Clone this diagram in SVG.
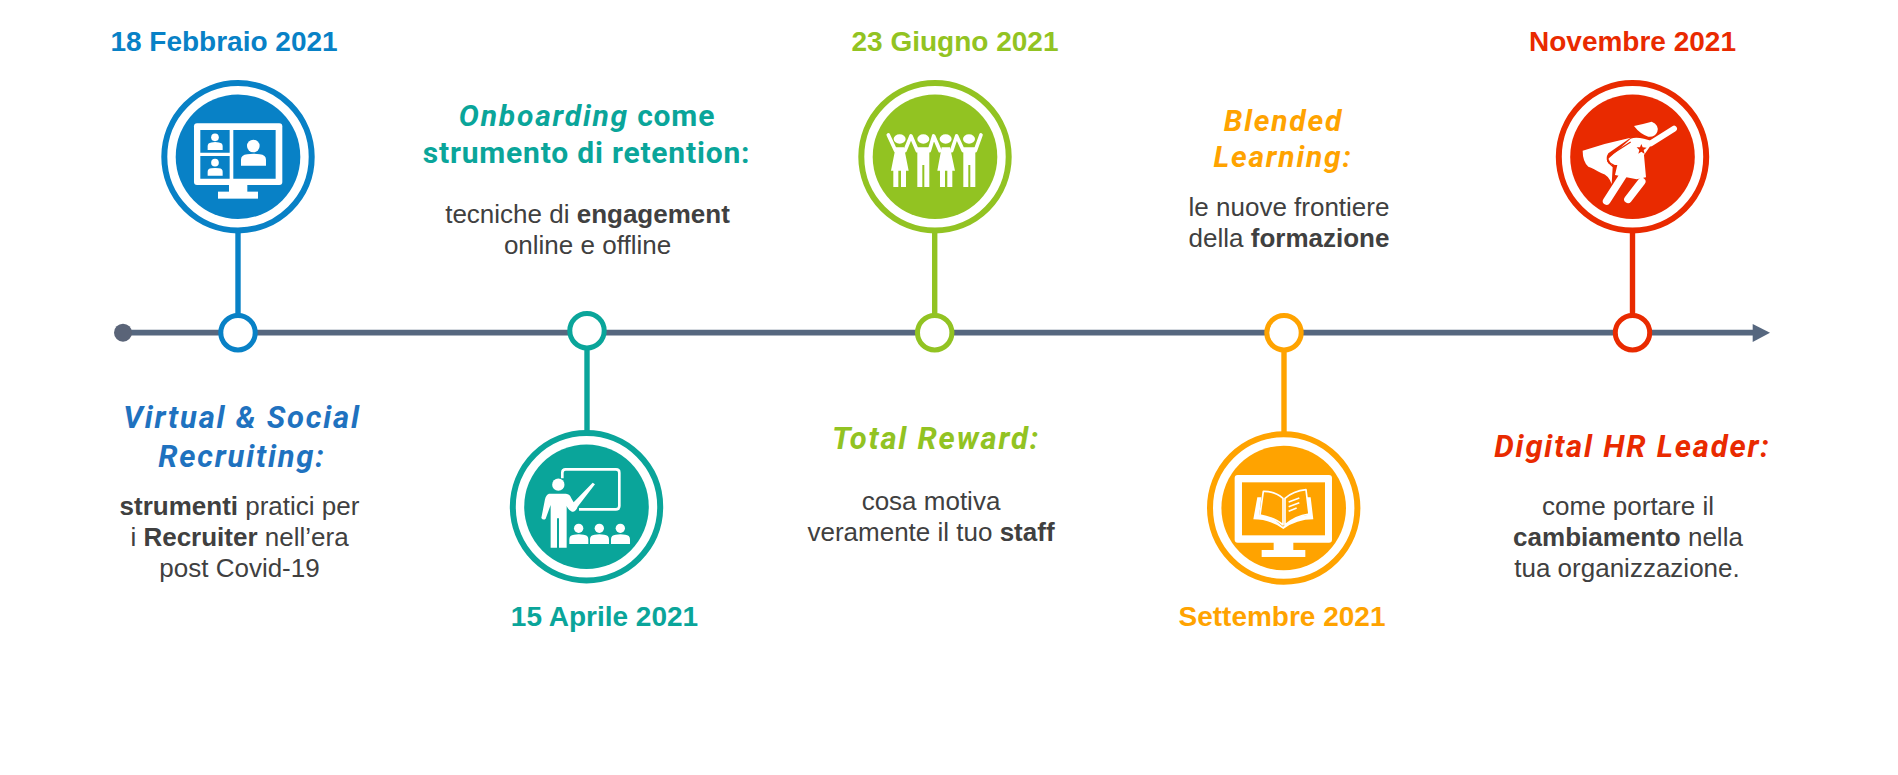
<svg xmlns="http://www.w3.org/2000/svg" xmlns:xlink="http://www.w3.org/1999/xlink" width="1898" height="775" viewBox="0 0 1898 775">
<style>
text{text-anchor:middle}
.date{font:bold 28px "Liberation Sans",Arial,sans-serif}
.head{font:bold 31px Roboto,"Liberation Sans",sans-serif;letter-spacing:1.8px}
.tl{font-size:30px;letter-spacing:.8px}
.ol{font-size:30px;letter-spacing:1.6px}
.it{font-style:italic;letter-spacing:1.8px}
.body{font:26px "Liberation Sans",Arial,sans-serif;fill:#404040}
.body .b{font-weight:bold}
.w{fill:#fff}
.blue{fill:#0881C6}.teal{fill:#0AA59A}.green{fill:#92C322}.orange{fill:#FFA300}.red{fill:#E92A00}
.ring{fill:#fff;stroke-width:6}
.knob{fill:#fff;stroke-width:5}
.stem{stroke-width:5.4;fill:none}
</style>
<defs>
<path id="bust" class="w" d="M0 10V5Q0 1 5 .5Q10 -.5 15 .5Q20 1 20 5V10Z"/>
</defs>
<rect width="1898" height="775" fill="#fff"/>
<g id="connectors">
<line x1="123" y1="332.7" x2="1754" y2="332.7" stroke="#56677F" stroke-width="5.7"/>
<circle cx="123" cy="332.7" r="9" fill="#5A6478"/>
<path d="M1752.7 324L1770 332.7L1752.7 342Z" fill="#56677F"/>
<line class="stem" x1="238" y1="230" x2="238" y2="320" stroke="#0881C6"/>
<line class="stem" x1="587" y1="345" x2="587" y2="432" stroke="#0AA59A"/>
<line class="stem" x1="934.7" y1="230" x2="934.7" y2="320" stroke="#92C322"/>
<line class="stem" x1="1284" y1="345" x2="1284" y2="433" stroke="#FFA300"/>
<line class="stem" x1="1632.5" y1="230" x2="1632.5" y2="320" stroke="#E92A00"/>
<circle class="knob" cx="238" cy="332.7" r="17.2" stroke="#0881C6"/>
<circle class="knob" cx="587" cy="330.7" r="17.2" stroke="#0AA59A"/>
<circle class="knob" cx="934.7" cy="332.7" r="17.2" stroke="#92C322"/>
<circle class="knob" cx="1284" cy="332.7" r="17.2" stroke="#FFA300"/>
<circle class="knob" cx="1632.5" cy="332.7" r="17.2" stroke="#E92A00"/>
</g>
<g id="node-febbraio">
<text class="date blue" x="224" y="51">18 Febbraio 2021</text>
<circle class="ring" cx="238" cy="156.7" r="73.7" stroke="#0881C6"/>
<circle class="blue" cx="238" cy="156.7" r="62.3"/>
<g transform="translate(90 0) scale(.3333)">
<rect class="w" x="312" y="370" width="265" height="185" rx="9"/>
<rect class="w" x="417" y="550" width="55" height="30"/>
<rect class="w" x="384" y="575" width="120" height="21"/>
<path class="blue" d="M331 390H419V458H331ZM331 468H419V536H331ZM430 390H557V536H430Z"/>
<circle class="w" cx="490" cy="438" r="19"/>
<use xlink:href="#bust" href="#bust" transform="translate(453 461) scale(3.75 3.6)"/>
<circle class="w" cx="375" cy="412" r="11.5"/>
<use xlink:href="#bust" href="#bust" transform="translate(353 426) scale(2.25 2.4)"/>
<circle class="w" cx="375" cy="488" r="11.5"/>
<use xlink:href="#bust" href="#bust" transform="translate(353 504) scale(2.25 2.3)"/>
</g>
<text class="head it" x="242" y="428" fill="#1F72BF">Virtual &amp; Social</text>
<text class="head it" x="242" y="467" fill="#1F72BF">Recruiting:</text>
<text class="body" x="239.5" y="515"><tspan class="b">strumenti</tspan> pratici per</text>
<text class="body" x="239.5" y="546">i <tspan class="b">Recruiter</tspan> nell’era</text>
<text class="body" x="239.5" y="577">post Covid-19</text>
</g>
<g id="node-aprile">
<text class="date teal" x="604.5" y="626">15 Aprile 2021</text>
<circle class="ring" cx="586.5" cy="506.7" r="73.7" stroke="#0AA59A"/>
<circle class="teal" cx="586.5" cy="506.7" r="62.3"/>
<g transform="translate(480 400) scale(.3333)">
<path d="M247 235V218Q247 208 257 208H408Q418 208 418 218V318Q418 328 408 328H297" fill="none" stroke="#fff" stroke-width="8"/>
<circle class="w" cx="235" cy="254" r="18.5"/>
<path class="w" d="M207 281H258Q270 282 274 295L281 307L338 248L345 253L293 320Q286 338 276 335Q266 332 260 318V443H237V355H231V443H212V315L197 356Q190 362 184 354L195 298Q198 284 207 281Z"/>
<circle class="w" cx="296" cy="385" r="14"/><circle class="w" cx="358" cy="385" r="14"/><circle class="w" cx="421" cy="385" r="14"/>
<use xlink:href="#bust" href="#bust" transform="translate(268 403) scale(2.85 2.9)"/>
<use xlink:href="#bust" href="#bust" transform="translate(330 403) scale(2.85 2.9)"/>
<use xlink:href="#bust" href="#bust" transform="translate(393 403) scale(2.85 2.9)"/>
</g>
<text class="head tl teal" x="587" y="126"><tspan class="it">Onboarding</tspan> come</text>
<text class="head tl teal" x="586.5" y="163">strumento di retention:</text>
<text class="body" x="587.5" y="223">tecniche di <tspan class="b">engagement</tspan></text>
<text class="body" x="587.5" y="254">online e offline</text>
</g>
<g id="node-giugno">
<text class="date green" x="955" y="51">23 Giugno 2021</text>
<circle class="ring" cx="935" cy="156.7" r="73.7" stroke="#92C322"/>
<circle class="green" cx="935" cy="156.7" r="62.3"/>
<g transform="translate(830 60) scale(.3333)">
<path d="M175 225L197 272M225 272L243 228L262 272M298 272L311 228L330 272M365 272L380 228L400 272M436 272L453 225" fill="none" stroke="#fff" stroke-width="11" stroke-linejoin="round" stroke-linecap="round"/>
<ellipse class="w" cx="209" cy="237" rx="18" ry="14"/><ellipse class="w" cx="280" cy="237" rx="18" ry="14"/><ellipse class="w" cx="347" cy="237" rx="18" ry="14"/><ellipse class="w" cx="417" cy="237" rx="18" ry="14"/>
<path class="w" d="M197 262H222L236 332H228V381H213V332H205V381H190V332H183Z"/>
<path class="w" d="M262 262H298V381H283V315H277V381H262Z"/>
<path class="w" d="M335 262H360L375 332H367V381H352V332H345V381H330V332H322Z"/>
<path class="w" d="M400 262H436V381H421V315H415V381H400Z"/>
</g>
<text class="head it green" x="936" y="449">Total Reward:</text>
<text class="body" x="931" y="510">cosa motiva</text>
<text class="body" x="931" y="541">veramente il tuo <tspan class="b">staff</tspan></text>
</g>
<g id="node-settembre">
<text class="date orange" x="1282" y="626">Settembre 2021</text>
<circle class="ring" cx="1283.7" cy="508" r="73.7" stroke="#FFA300"/>
<circle class="orange" cx="1283.7" cy="508" r="62.3"/>
<g transform="translate(1180 420) scale(.3333)">
<rect class="w" x="164" y="165" width="292" height="203" rx="9"/>
<rect class="orange" x="186" y="187" width="249" height="159"/>
<rect class="w" x="281" y="365" width="59" height="28"/>
<rect class="w" x="245" y="390" width="131" height="21"/>
<path class="w" d="M232 232L220 298Q270 298 310 327Q350 298 400 298L392 232Z"/>
<path class="orange" d="M246 212L238 285Q280 290 309 320Q340 290 382 285L376 212Z"/>
<path d="M250 214Q285 213 309 235V315Q285 294 240 285ZM315 235Q340 213 378 209L387 282Q345 288 315 315Z" fill="#FFA300" stroke="#fff" stroke-width="5" stroke-linejoin="round"/>
<path d="M326 246L358 234M326 260L358 248M326 274L350 264" stroke="#fff" stroke-width="5" fill="none"/>
</g>
<text class="head it ol orange" x="1283.5" y="131">Blended</text>
<text class="head it ol orange" x="1283" y="167">Learning:</text>
<text class="body" x="1289" y="216">le nuove frontiere</text>
<text class="body" x="1289" y="247">della <tspan class="b">formazione</tspan></text>
</g>
<g id="node-novembre">
<text class="date red" x="1632.5" y="51">Novembre 2021</text>
<circle class="ring" cx="1632.5" cy="156.7" r="73.7" stroke="#E92A00"/>
<circle class="red" cx="1632.5" cy="156.7" r="62.3"/>
<g transform="translate(1540 60) scale(.3333)">
<path class="w" d="M282 198Q310 192 335 185Q358 195 352 215Q345 232 325 230Q300 222 282 198Z"/>
<path class="w" d="M128 272Q200 248 272 233L205 280Q195 295 205 310L218 322L215 372Q205 345 185 340Q160 325 145 320Q128 305 128 272Z"/>
<path d="M402 206L333 250" stroke="#fff" stroke-width="18" stroke-linecap="round"/>
<path class="w" d="M272 236Q295 228 340 245L312 285L318 352L290 358L225 345L232 315L215 315L205 296Z"/>
<path d="M200 423L250 345M264 418L305 365" stroke="#fff" stroke-width="23" stroke-linecap="round"/>
<path d="M272 246L207 288Q198 298 207 308L226 318" fill="none" stroke="#E92A00" stroke-width="4"/>
<path class="red" d="M304 252L308 262L320 263L311 270L314 282L304 275L295 281L298 270L290 262L300 262Z"/>
</g>
<text class="head it red" x="1632.5" y="457">Digital HR Leader:</text>
<text class="body" x="1628" y="515">come portare il</text>
<text class="body" x="1628" y="546"><tspan class="b">cambiamento</tspan> nella</text>
<text class="body" x="1627" y="577">tua organizzazione.</text>
</g>
</svg>
